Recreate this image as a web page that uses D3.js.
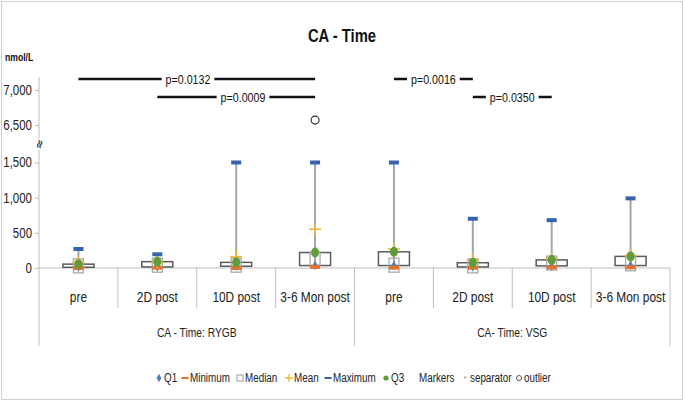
<!DOCTYPE html>
<html><head><meta charset="utf-8">
<script src="https://cdn.jsdelivr.net/npm/d3@7"></script>
<style>
html,body{margin:0;padding:0;background:#fff;}
svg{display:block;font-family:"Liberation Sans",Arial,sans-serif;}
</style></head>
<body><svg id="c" width="685" height="402"></svg>
<script>
// ---- data ----
const groups = ["CA - Time: RYGB", "CA- Time: VSG"];
const categories = ["pre", "2D post", "10D post", "3-6 Mon post"];
const minimum = [0, 5, 0, 15, 5, 5, 10, 10];
const q1      = [10, 15, 25, 35, 35, 15, 30, 35];
const median  = [30, 40, 40, 125, 40, 30, 70, 60];
const mean    = [80, 80, 160, 550, 270, 110, 140, 180];
const q3      = [55, 90, 80, 220, 230, 75, 115, 165];
const maximum = [270, 195, 1500, 1500, 1500, 700, 680, 990];
const outlierIdx = [3];
const outlierVal = [6570];
const yTicks = [0, 500, 1000, 1500, 6500, 7000];
const pFrom = [0, 1, 4, 5];
const pTo   = [3, 3, 5, 6];
const pText = ["p=0.0132", "p=0.0009", "p=0.0016", "p=0.0350"];
const pRow  = [0, 1, 0, 1];
const legendNames = ["Q1", "Minimum", "Median", "Mean", "Maximum", "Q3", "Markers", "separator", "outlier"];

// ---- layout ----
const svg = d3.select("#c");
const left = 39, right = 670, baseY = 268;
const keys = d3.range(groups.length * categories.length);
const x = d3.scaleBand().domain(keys).range([left, right]);
const y = d3.scaleLinear().domain([0, 1500, 6500, 7000]).range([baseY, 162.5, 125, 90]);
const cx = i => x(i) + x.bandwidth() / 2;
const NARROW = 0.82;
function narrow(sel){
  sel.each(function(){
    const w = this.getComputedTextLength();
    if (w > 0) d3.select(this).attr("textLength", w * NARROW).attr("lengthAdjust", "spacingAndGlyphs");
  });
  return sel;
}

const C = {q1:"#4f7fc4", min:"#e2722e", med:"#a9a9a9", mean:"#f4b836", max:"#3763ae", q3:"#5f9c3a", axis:"#bfbfbf", text:"#222"};

// border
svg.append("rect").attr("x",1.5).attr("y",1.5).attr("width",681).attr("height",398)
  .attr("fill","none").attr("stroke","#d0d0d0").attr("stroke-width",1);

// title
narrow(svg.append("text").attr("x",342).attr("y",42).attr("text-anchor","middle")
  .attr("font-size",18).attr("font-weight","bold").attr("fill","#111").text("CA - Time"));
narrow(svg.append("text").attr("x",5).attr("y",61).attr("font-size",10.5).attr("font-weight","bold")
  .attr("fill","#111").text("nmol/L"));

// y axis
const yAxis = d3.axisLeft(y).tickValues(yTicks).tickFormat(d3.format(",")).tickSize(4).tickPadding(3);
const ga = svg.append("g").attr("transform",`translate(${left},0)`).call(yAxis);
ga.select(".domain").remove();
ga.selectAll(".tick line").attr("stroke",C.axis);
ga.selectAll(".tick text").attr("font-size",14).attr("fill",C.text)
  .attr("font-family",'"Liberation Sans",Arial,sans-serif');
narrow(ga.selectAll(".tick text"));
svg.append("line").attr("x1",left).attr("x2",left).attr("y1",y(7000)-13).attr("y2",139).attr("stroke",C.axis);
svg.append("line").attr("x1",left).attr("x2",left).attr("y1",150).attr("y2",346).attr("stroke",C.axis);
svg.append("text").attr("x",0).attr("y",0).attr("transform","translate(39.5,144) rotate(-75)")
  .attr("text-anchor","middle").attr("dominant-baseline","central").attr("font-size",12)
  .attr("font-weight","bold").attr("font-family","DejaVu Sans").attr("fill","#444").text("≈");

// category axis
svg.append("line").attr("x1",left).attr("x2",right).attr("y1",baseY).attr("y2",baseY).attr("stroke",C.axis);
keys.forEach(i=>{
  if(i===0) return;
  const isGroup = i % categories.length === 0;
  svg.append("line").attr("x1",x(i)).attr("x2",x(i)).attr("y1",baseY).attr("y2",isGroup?346:308).attr("stroke",C.axis);
});
svg.append("line").attr("x1",right).attr("x2",right).attr("y1",baseY).attr("y2",346).attr("stroke",C.axis);
keys.forEach(i=>{
  narrow(svg.append("text").attr("x",cx(i)).attr("y",302).attr("text-anchor","middle")
    .attr("font-size",14.5).attr("fill",C.text).text(categories[i % categories.length]));
});
groups.forEach((g,gi)=>{
  const a = x(gi*categories.length), b = x(gi*categories.length+categories.length-1)+x.bandwidth();
  narrow(svg.append("text").attr("x",(a+b)/2).attr("y",337).attr("text-anchor","middle")
    .attr("font-size",12.5).attr("fill",C.text).text(g));
});

// boxes
const bw = 31;
const plot = svg.append("g");
keys.forEach(i=>{
  const c = cx(i);
  plot.append("line").attr("x1",c).attr("x2",c).attr("y1",y(minimum[i])).attr("y2",y(maximum[i]))
    .attr("stroke","#a5a5a5").attr("stroke-width",2);
  plot.append("rect").attr("x",c-bw/2).attr("y",y(q3[i])).attr("width",bw)
    .attr("height",Math.max(1,y(q1[i])-y(q3[i]))).attr("fill","#fff").attr("stroke","#5a5a5a").attr("stroke-width",1.5);
  plot.append("line").attr("x1",c).attr("x2",c).attr("y1",y(q1[i])).attr("y2",y(q3[i]))
    .attr("stroke","#a5a5a5").attr("stroke-width",2);
  // median marker
  plot.append("rect").attr("x",c-5).attr("y",y(median[i])-7).attr("width",10).attr("height",14)
    .attr("fill","none").attr("stroke",C.med).attr("stroke-width",1.3);
  // Q1 diamond
  plot.append("path").attr("d",d3.symbol(d3.symbolDiamond,26)()).attr("transform",`translate(${c},${y(q1[i])})`)
    .attr("fill",C.q1);
  // min dash
  plot.append("rect").attr("x",c-5).attr("y",y(minimum[i])-2).attr("width",10).attr("height",4).attr("fill",C.min);
  // max dash
  plot.append("rect").attr("x",c-5).attr("y",y(maximum[i])-2).attr("width",10).attr("height",4).attr("fill",C.max);
  // mean plus
  plot.append("path").attr("d",`M${c-6},${y(mean[i])}H${c+6}M${c},${y(mean[i])-6}V${y(mean[i])+6}`)
    .attr("stroke",C.mean).attr("stroke-width",1.6);
  // Q3 circle
  plot.append("ellipse").attr("cx",c).attr("cy",y(q3[i])).attr("rx",4).attr("ry",5).attr("fill",C.q3);
});
outlierIdx.forEach((idx,k)=>{
  plot.append("circle").attr("cx",cx(idx)).attr("cy",y(outlierVal[k])).attr("r",4)
    .attr("fill","#fff").attr("stroke","#222").attr("stroke-width",1.1);
});

// p-value brackets
const rowY = [79, 97];
const pg = svg.append("g");
pText.forEach((t,k)=>{
  const a = cx(pFrom[k]), b = cx(pTo[k]), yy = rowY[pRow[k]];
  pg.append("line").attr("x1",a).attr("x2",b).attr("y1",yy).attr("y2",yy).attr("stroke","#111").attr("stroke-width",2.6);
  const tx = k===0 ? 188 : k===1 ? 243 : (a+b)/2;
  const bg = pg.append("rect").attr("fill","#fff");
  const txt = pg.append("text").attr("x",tx).attr("y",yy).attr("text-anchor","middle").attr("dominant-baseline","central")
    .attr("font-size",13).attr("fill","#111").text(t);
  narrow(txt);
  const bb = txt.node().getBBox();
  bg.attr("x",bb.x-4).attr("y",yy-3).attr("width",bb.width+8).attr("height",6);
});

// legend
const lg = svg.append("g").attr("font-size",12).attr("fill",C.text);
const lx = [159, 185, 240, 289, 328, 386, 419, 465, 519];
legendNames.forEach((n,k)=>{
  const sx = lx[k], yy = 378;
  let tx = sx + 5;
  if(n==="Q1") lg.append("path").attr("d",d3.symbol(d3.symbolDiamond,20)()).attr("transform",`translate(${sx},${yy})`).attr("fill",C.q1);
  if(n==="Minimum") lg.append("rect").attr("x",sx-3.5).attr("y",yy-1).attr("width",7).attr("height",2).attr("fill",C.min);
  if(n==="Median") lg.append("rect").attr("x",sx-3).attr("y",yy-3).attr("width",6).attr("height",6).attr("fill","none").attr("stroke","#999");
  if(n==="Mean") lg.append("path").attr("d",`M${sx-4},${yy}H${sx+4}M${sx},${yy-4}V${yy+4}`).attr("stroke",C.mean).attr("stroke-width",1.3);
  if(n==="Maximum") lg.append("rect").attr("x",sx-3.5).attr("y",yy-1).attr("width",7).attr("height",2).attr("fill",C.max);
  if(n==="Q3") lg.append("circle").attr("cx",sx).attr("cy",yy).attr("r",2.6).attr("fill",C.q3);
  if(n==="Markers") tx = sx;
  if(n==="separator") lg.append("text").attr("x",sx).attr("y",yy).attr("text-anchor","middle").attr("dominant-baseline","central").attr("font-size",8).attr("fill","#888").text("*");
  if(n==="outlier") lg.append("circle").attr("cx",sx).attr("cy",yy).attr("r",2.5).attr("fill","none").attr("stroke","#555");
  narrow(lg.append("text").attr("x",tx).attr("y",yy).attr("dominant-baseline","central").text(n));
});
</script></body></html>
